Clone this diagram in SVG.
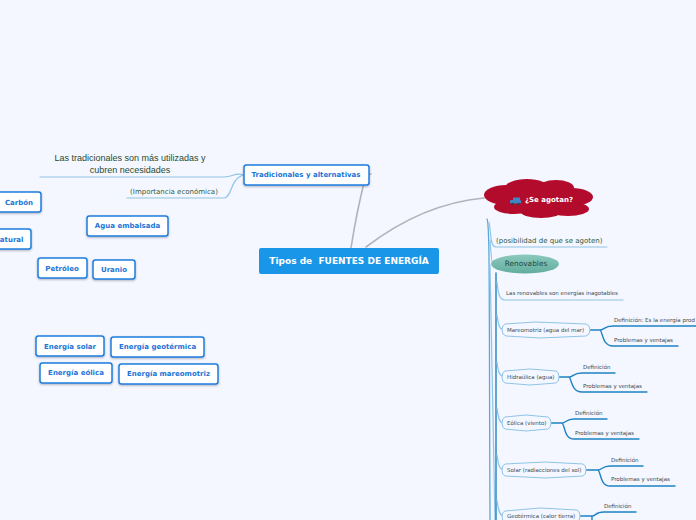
<svg xmlns="http://www.w3.org/2000/svg" width="696" height="520" viewBox="0 0 696 520">
<style>
text{font-family:"DejaVu Sans",Verdana,sans-serif}
.b rect{fill:#fff;stroke:#1b7fe0;stroke-width:1.5}
.b text{font-size:7px;font-weight:bold;fill:#1b74d8;text-anchor:middle}
.c{fill:none;stroke-linecap:round}
.g{stroke:#b0b4ba;stroke-width:1.6}
.l{stroke:#8fc4e6;stroke-width:1.2}
.m{stroke:#5aa9d8;stroke-width:1.3}
.d{stroke:#1d83c4;stroke-width:1.4}
.s{font-size:5.5px;fill:#3c4a50}
.t{font-size:7px;fill:#2f5a40}
.h{fill:#f4f7ff;stroke:#8fc4e6;stroke-width:1}
</style>
<defs>
<linearGradient id="teal" x1="0" y1="0" x2="0" y2="1"><stop offset="0" stop-color="#8cc9bd"/><stop offset="1" stop-color="#62ad9f"/></linearGradient>
<filter id="sh" x="-10%" y="-20%" width="120%" height="150%"><feDropShadow dx="0" dy="1" stdDeviation="0.8" flood-color="#556" flood-opacity="0.45"/></filter>
</defs>
<rect width="696" height="520" fill="#f4f7ff"/>
<g id="connectors">
<path class="c g" d="M351 248C355 222 360 198 366 175L371 174"/>
<path class="c g" d="M366 247C400 221 440 202 484 198"/>
<path class="c l" d="M40 177H224C234 177 234 172 244 175"/>
<path class="c l" d="M127 198H224C232 198 230 178 244 175"/>
<path class="c m" d="M487 219C490 224 489 300 490 520"/>
<path class="c l" d="M489 222C491 232 490 247 496 247H607"/>
<path class="c l" d="M490 240C491 255 492 265 493 265"/>
<path class="c l" d="M490 265C491 300 492 400 495 520"/>
<path class="c" stroke="#1378b8" stroke-width="1.3" d="M496 273V520"/>
<path class="c l" d="M497 282C498 292 499 300 505 300H623"/>
<path class="c l" d="M497 315C498 322 499 330 503 329"/>
<path class="c l" d="M497 362C498 370 499 376 503 376"/>
<path class="c l" d="M497 408C498 416 499 423 503 423"/>
<path class="c l" d="M497 455C498 462 499 470 503 469"/>
<path class="c l" d="M497 500C498 508 499 515 503 516"/>
<path class="c d" d="M590 330H600M600 330C604 330 604 326 613 326H696M600 330C603 332 602 346 613 346H678"/>
<path class="c d" d="M559 377H569M569 377C573 377 573 373 582 373H615M569 377C572 379 571 392 582 392H647"/>
<path class="c d" d="M551 423H562M562 423C566 423 566 419 574 419H607M562 423C565 425 564 439 574 439H639"/>
<path class="c d" d="M586 470H598M598 470C602 470 602 466 610 466H643M598 470C601 472 600 486 610 486H675"/>
<path class="c d" d="M580 516H592M592 516C596 516 595 512 604 512H636M592 516V520"/>
</g>
<g id="central"><rect x="259" y="248" width="180" height="26" rx="2" fill="#1a96e8"/><text x="349" y="264" font-size="9" font-weight="bold" fill="#fff" text-anchor="middle" xml:space="preserve">Tipos de  FUENTES DE ENERGÍA</text></g>
<g id="tradicionales" class="b"><rect x="244" y="165" width="125" height="20" rx="2.5" filter="url(#sh)"/><text x="306" y="177">Tradicionales y alternativas</text></g>
<g id="nota1"><text x="130" y="161" font-size="9" fill="#1f4a33" text-anchor="middle" style="font-family:'Liberation Sans',Arial,sans-serif"><tspan x="130">Las tradicionales son más utilizadas y</tspan><tspan x="130" dy="11.5">cubren necesidades</tspan></text></g>
<g id="nota2"><text x="174" y="194" class="t" text-anchor="middle">(Importancia económica)</text></g>
<g id="carbon" class="b"><rect x="-5" y="192" width="46" height="20" rx="2.5" filter="url(#sh)"/><text x="19" y="205">Carbón</text></g>
<g id="natural" class="b"><rect x="-5" y="229" width="36" height="20" rx="2.5" filter="url(#sh)"/><text x="23.500" y="242" style="text-anchor:end">atural</text></g>
<g id="agua" class="b"><rect x="87" y="216" width="81" height="20" rx="2.5" filter="url(#sh)"/><text x="127.500" y="228">Agua embalsada</text></g>
<g id="petroleo" class="b"><rect x="38" y="258" width="49" height="20" rx="2.5" filter="url(#sh)"/><text x="62" y="271">Petróleo</text></g>
<g id="uranio" class="b"><rect x="93" y="260" width="42" height="19" rx="2.5" filter="url(#sh)"/><text x="114" y="272">Uranio</text></g>
<g id="solar" class="b"><rect x="36" y="336" width="68" height="20" rx="2.5" filter="url(#sh)"/><text x="70" y="349">Energía solar</text></g>
<g id="geotermica" class="b"><rect x="111" y="337" width="93" height="20" rx="2.5" filter="url(#sh)"/><text x="157.500" y="349">Energía geotérmica</text></g>
<g id="eolica" class="b"><rect x="40" y="363" width="72" height="20" rx="2.5" filter="url(#sh)"/><text x="76" y="375">Energía eólica</text></g>
<g id="mareomotriz" class="b"><rect x="119" y="364" width="99" height="20" rx="2.5" filter="url(#sh)"/><text x="168.500" y="376">Energía mareomotriz</text></g>
<g id="agotan">
<g fill="#b30b2b"><ellipse cx="506" cy="195" rx="22" ry="10"/><ellipse cx="527" cy="188" rx="22" ry="9"/><ellipse cx="556" cy="188" rx="18" ry="8"/><ellipse cx="572" cy="197" rx="21" ry="9"/><ellipse cx="568" cy="209" rx="21" ry="7"/><ellipse cx="541" cy="212" rx="20" ry="6"/><ellipse cx="514" cy="207" rx="20" ry="7"/><ellipse cx="538" cy="198" rx="36" ry="12"/></g>
<g fill="#3d86c6"><rect x="510" y="200" width="11" height="3.500" rx="1"/><rect x="513" y="197.500" width="7" height="3" rx="0.500"/><circle cx="512.500" cy="204" r="1.300" fill="#34404a"/><circle cx="518.500" cy="204" r="1.300" fill="#34404a"/></g>
<text x="525" y="202" font-size="7" font-weight="bold" fill="#fff">¿Se agotan?</text></g>
<g id="posibilidad"><text x="496" y="243" class="t">(posibilidad de que se agoten)</text></g>
<g id="renovables"><ellipse cx="525" cy="264" rx="34" ry="9.500" fill="url(#teal)"/><text x="526" y="266" font-size="7.400" fill="#1f4a40" text-anchor="middle">Renovables</text></g>
<g id="inagotables"><text x="506" y="295" class="s">Las renovables son energías inagotables</text></g>
<g id="n-mareo"><path class="h" d="M505 324L535 322L586 324Q590 325 590 330Q590 335 586 336L540 338L506 336Q502 335 502 330Q502 325 505 324Z"/><text x="507" y="332" class="s">Mareomotriz (agua del mar)</text></g>
<text x="614" y="322" class="s">Definición: Es la energía prod</text>
<text x="614" y="342" class="s">Problemas y ventajas</text>
<g id="n-hidra"><path class="h" d="M505 371L530 369L556 371Q559 372 559 377Q559 382 556 383L530 385L505 383Q502 382 502 377Q502 372 505 371Z"/><text x="507" y="379" class="s">Hidraúlica (agua)</text></g>
<text x="583" y="369" class="s">Definición</text>
<text x="583" y="388" class="s">Problemas y ventajas</text>
<g id="n-eolica"><path class="h" d="M505 417L526 415L548 417Q551 418 551 423Q551 428 548 429L526 431L505 429Q502 428 502 423Q502 418 505 417Z"/><text x="507" y="425" class="s">Eólica (viento)</text></g>
<text x="575" y="415" class="s">Definición</text>
<text x="575" y="435" class="s">Problemas y ventajas</text>
<g id="n-solar"><path class="h" d="M505 464L545 462L583 464Q586 465 586 470Q586 475 583 476L545 478L505 476Q502 475 502 470Q502 465 505 464Z"/><text x="507" y="472" class="s">Solar (radiacciones del sol)</text></g>
<text x="611" y="462" class="s">Definición</text>
<text x="611" y="481" class="s">Problemas y ventajas</text>
<g id="n-geo"><path class="h" d="M505 511L540 508L577 510Q580 511 580 516Q580 521 577 522H505Q502 521 502 516Q502 512 505 511Z"/><text x="507" y="518" class="s">Geotérmica (calor tierra)</text></g>
<text x="604" y="508" class="s">Definición</text>
</svg>
